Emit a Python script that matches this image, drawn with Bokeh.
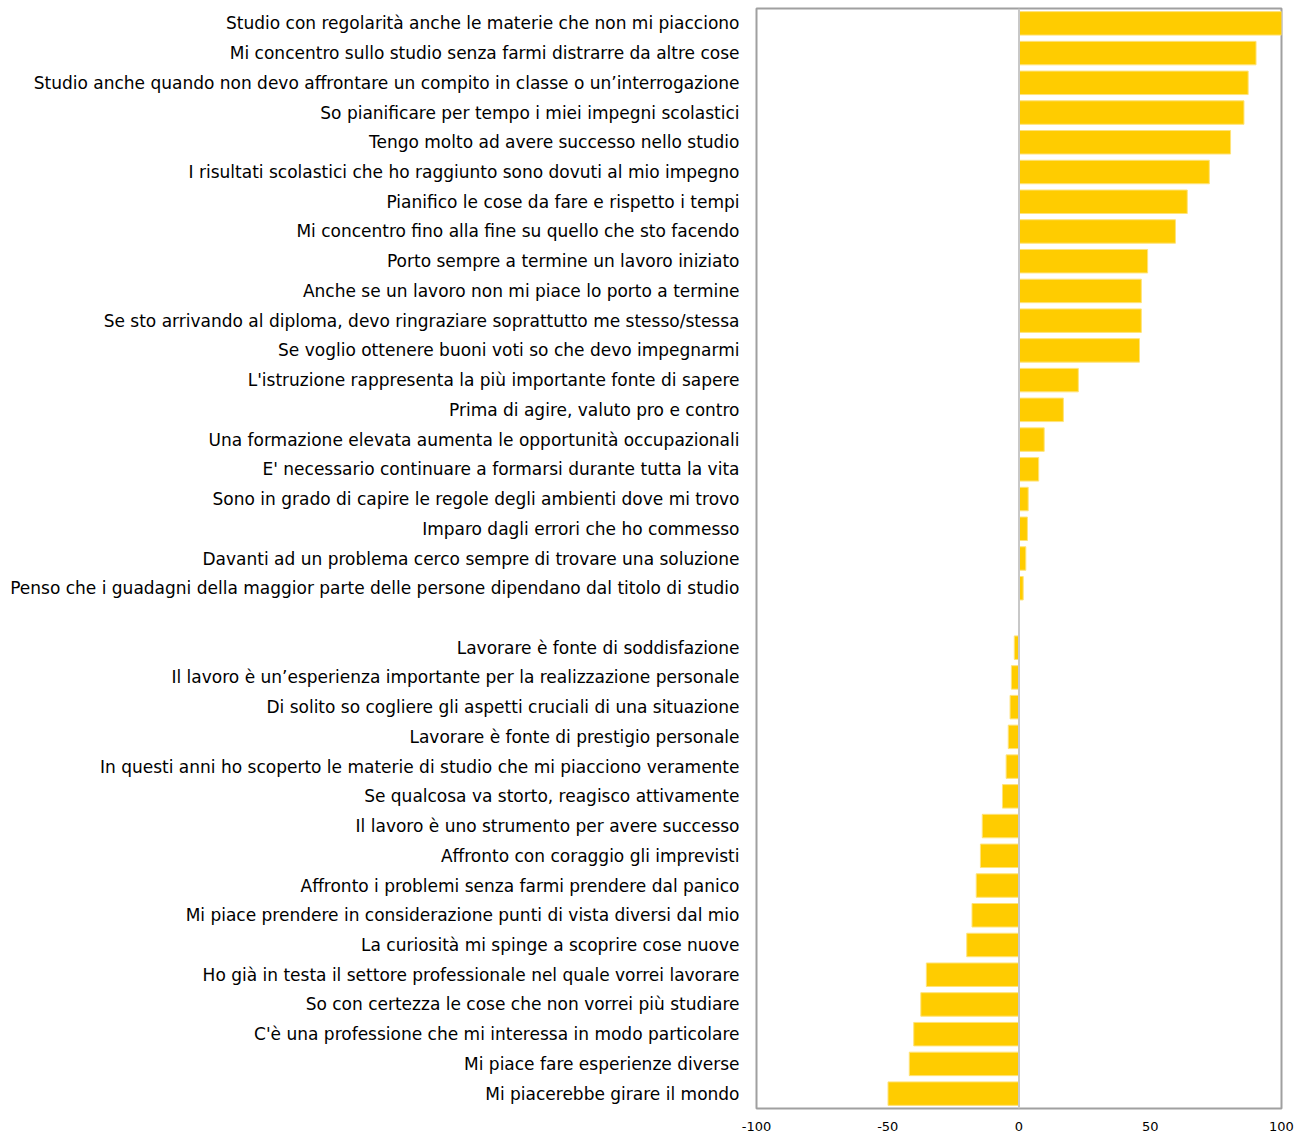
from bokeh.plotting import figure
from bokeh.models import Span, FixedTicker, NumeralTickFormatter
from bokeh.embed import file_html
from bokeh.resources import INLINE

labels = [
    "Studio con regolarità anche le materie che non mi piacciono",
    "Mi concentro sullo studio senza farmi distrarre da altre cose",
    "Studio anche quando non devo affrontare un compito in classe o un’interrogazione",
    "So pianificare per tempo i miei impegni scolastici",
    "Tengo molto ad avere successo nello studio",
    "I risultati scolastici che ho raggiunto sono dovuti al mio impegno",
    "Pianifico le cose da fare e rispetto i tempi",
    "Mi concentro fino alla fine su quello che sto facendo",
    "Porto sempre a termine un lavoro iniziato",
    "Anche se un lavoro non mi piace lo porto a termine",
    "Se sto arrivando al diploma, devo ringraziare soprattutto me stesso/stessa",
    "Se voglio ottenere buoni voti so che devo impegnarmi",
    "L'istruzione rappresenta la più importante fonte di sapere",
    "Prima di agire, valuto pro e contro",
    "Una formazione elevata aumenta le opportunità occupazionali",
    "E' necessario continuare a formarsi durante tutta la vita",
    "Sono in grado di capire le regole degli ambienti dove mi trovo",
    "Imparo dagli errori che ho commesso",
    "Davanti ad un problema cerco sempre di trovare una soluzione",
    "Penso che i guadagni della maggior parte delle persone dipendano dal titolo di studio",
    " ",
    "Lavorare è fonte di soddisfazione",
    "Il lavoro è un’esperienza importante per la realizzazione personale",
    "Di solito so cogliere gli aspetti cruciali di una situazione",
    "Lavorare è fonte di prestigio personale",
    "In questi anni ho scoperto le materie di studio che mi piacciono veramente",
    "Se qualcosa va storto, reagisco attivamente",
    "Il lavoro è uno strumento per avere successo",
    "Affronto con coraggio gli imprevisti",
    "Affronto i problemi senza farmi prendere dal panico",
    "Mi piace prendere in considerazione punti di vista diversi dal mio",
    "La curiosità mi spinge a scoprire cose nuove",
    "Ho già in testa il settore professionale nel quale vorrei lavorare",
    "So con certezza le cose che non vorrei più studiare",
    "C'è una professione che mi interessa in modo particolare",
    "Mi piace fare esperienze diverse",
    "Mi piacerebbe girare il mondo",
]

values = [
    100, 90.3, 87.3, 85.7, 80.6, 72.5, 64.1, 59.6, 49.0, 46.6, 46.6, 45.9,
    22.6, 16.9, 9.6, 7.5, 3.5, 3.2, 2.6, 1.6,
    0,
    -1.8, -2.9, -3.4, -4.1, -4.9, -6.3, -14.0, -14.7, -16.3, -17.9, -19.9,
    -35.3, -37.4, -40.1, -41.8, -49.9,
]

x_ticks = [-100, -50, 0, 50, 100]

p = figure(
    width=1296, height=1135,
    y_range=list(reversed(labels)),
    x_range=(-100, 100),
    output_backend="svg", toolbar_location=None,
    min_border_left=756, min_border_right=15,
    min_border_top=8, min_border_bottom=27,
)

bar_labels = [l for l, v in zip(labels, values) if l.strip()]
bar_values = [v for l, v in zip(labels, values) if l.strip()]
p.hbar(y=bar_labels, right=bar_values, left=0, height=0.79,
       fill_color="#FFCC00", line_color="#FFE37A", line_width=1)

p.add_layout(Span(location=0, dimension="height", line_color="#C8C8C8", line_width=2))

p.xgrid.visible = False
p.ygrid.visible = False
p.outline_line_color = "#A0A0A0"
p.outline_line_width = 2
p.background_fill_color = "white"
p.border_fill_color = "white"

p.xaxis.ticker = FixedTicker(ticks=x_ticks)
p.xaxis.formatter = NumeralTickFormatter(format="0")
p.xaxis.axis_line_color = None
p.xaxis.major_tick_line_color = None
p.xaxis.minor_tick_line_color = None
p.xaxis.major_tick_out = 0
p.xaxis.major_tick_in = 0
p.xaxis.major_label_standoff = 13
p.xaxis.major_label_text_font = "DejaVu Sans"
p.xaxis.major_label_text_font_size = "13px"
p.xaxis.major_label_text_color = "#000000"

p.yaxis.axis_line_color = None
p.yaxis.major_tick_line_color = None
p.yaxis.major_tick_out = 0
p.yaxis.major_tick_in = 0
p.yaxis.major_label_standoff = 17
p.yaxis.major_label_text_font = "DejaVu Sans"
p.yaxis.major_label_text_font_size = "17px"
p.yaxis.major_label_text_color = "#000000"

open("out.html", "w").write(file_html(p, INLINE))
